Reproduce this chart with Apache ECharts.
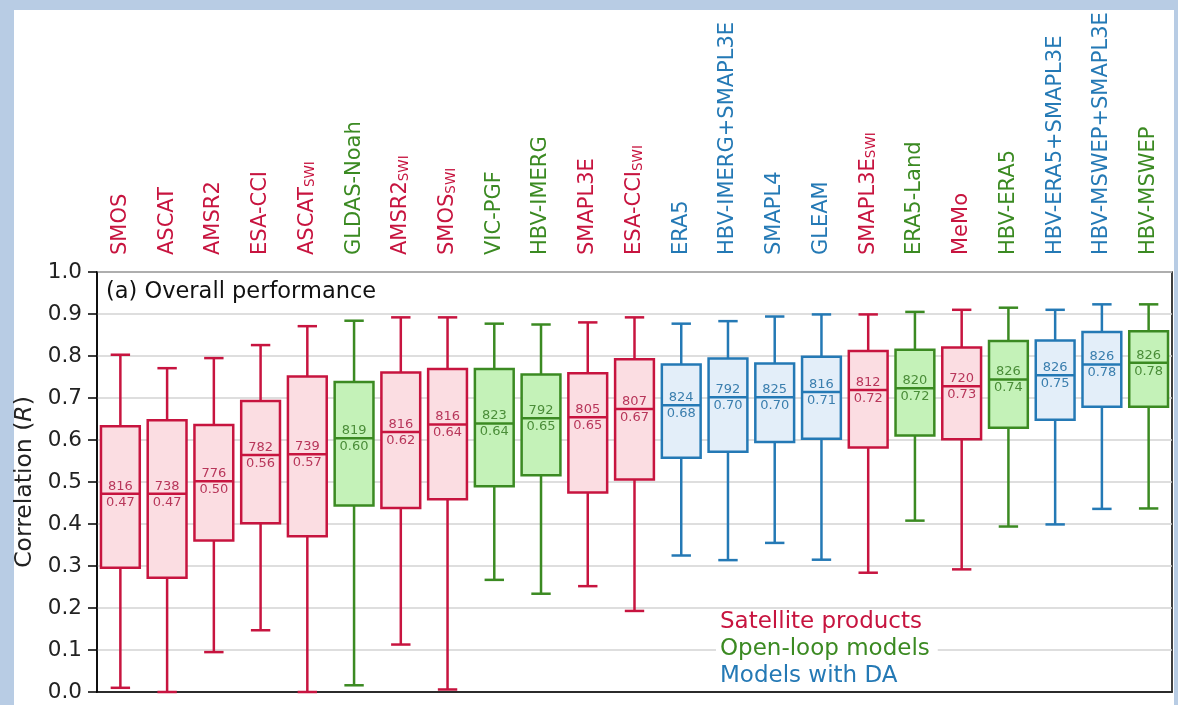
<!DOCTYPE html>
<html>
<head>
<meta charset="utf-8">
<script src="https://cdn.jsdelivr.net/npm/echarts@6/dist/echarts.min.js"></script>
<style>
  html, body { margin: 0; padding: 0; background: #b8cce4; }
  #panel { position: absolute; left: 14px; top: 10px; width: 1160px; height: 695px; background: #ffffff; }
  #chart { position: absolute; left: 0; top: 0; width: 1178px; height: 705px; }
</style>
</head>
<body>
<div id="panel"></div>
<div id="chart"></div>
<script>
// ---- data ----
const categories = ['SMOS','ASCAT','AMSR2','ESA-CCI','ASCAT_SWI','GLDAS-Noah','AMSR2_SWI','SMOS_SWI','VIC-PGF','HBV-IMERG','SMAPL3E','ESA-CCI_SWI','ERA5','HBV-IMERG+SMAPL3E','SMAPL4','GLEAM','SMAPL3E_SWI','ERA5-Land','MeMo','HBV-ERA5','HBV-ERA5+SMAPL3E','HBV-MSWEP+SMAPL3E','HBV-MSWEP'];
const groups = ['sat','sat','sat','sat','sat','ol','sat','sat','ol','ol','sat','sat','da','da','da','da','sat','ol','sat','ol','da','da','ol'];
const whiskerLow = [0.010,0.000,0.095,0.147,0.000,0.016,0.113,0.006,0.267,0.234,0.252,0.193,0.325,0.314,0.355,0.315,0.284,0.408,0.292,0.394,0.399,0.436,0.437];
const q1 = [0.296,0.272,0.361,0.402,0.371,0.444,0.438,0.459,0.490,0.516,0.475,0.506,0.558,0.572,0.595,0.603,0.582,0.611,0.602,0.629,0.648,0.679,0.679];
const medians = [0.472,0.472,0.502,0.564,0.566,0.604,0.619,0.637,0.639,0.652,0.654,0.674,0.683,0.702,0.702,0.714,0.719,0.723,0.728,0.744,0.754,0.780,0.784];
const q3 = [0.633,0.647,0.636,0.693,0.751,0.738,0.761,0.769,0.769,0.756,0.759,0.792,0.780,0.794,0.782,0.798,0.812,0.815,0.820,0.836,0.837,0.857,0.859];
const whiskerHigh = [0.803,0.771,0.795,0.826,0.871,0.884,0.892,0.892,0.877,0.875,0.880,0.892,0.877,0.883,0.894,0.899,0.899,0.905,0.910,0.915,0.910,0.923,0.923];
const counts = [816,738,776,782,739,819,816,816,823,792,805,807,824,792,825,816,812,820,720,826,826,826,826];
const yTicks = [0,0.1,0.2,0.3,0.4,0.5,0.6,0.7,0.8,0.9,1.0];
const legendLabels = ['Satellite products','Open-loop models','Models with DA'];
const panelTitle = '(a) Overall performance';

// ---- style ----
const palette = {
  sat: { line: '#c7143f', fill: '#fbdde2', text: '#b8365a' },
  ol:  { line: '#3b8a22', fill: '#c4f2b8', text: '#4a8d38' },
  da:  { line: '#2479b5', fill: '#e3eef9', text: '#3a7eae' }
};
const FONT = "'DejaVu Sans', sans-serif";

const boxData = categories.map((c, i) => [i, whiskerLow[i], q1[i], medians[i], q3[i], whiskerHigh[i], counts[i]]);

function renderBox(params, api) {
  const i = api.value(0);
  const g = palette[groups[i]];
  const cx = api.coord([i, 0])[0];
  const bw = api.size([1, 0])[0] * 0.83;
  const capW = bw * 0.5;
  const Y = v => api.coord([i, v])[1];
  const yLo = Y(api.value(1)), yQ1 = Y(api.value(2)), yMed = Y(api.value(3)), yQ3 = Y(api.value(4)), yHi = Y(api.value(5));
  const ls = { stroke: g.line, lineWidth: 2.5 };
  return {
    type: 'group',
    children: [
      { type: 'line', shape: { x1: cx, y1: yQ3, x2: cx, y2: yHi }, style: ls },
      { type: 'line', shape: { x1: cx, y1: yQ1, x2: cx, y2: yLo }, style: ls },
      { type: 'line', shape: { x1: cx - capW / 2, y1: yHi, x2: cx + capW / 2, y2: yHi }, style: ls },
      { type: 'line', shape: { x1: cx - capW / 2, y1: yLo, x2: cx + capW / 2, y2: yLo }, style: ls },
      { type: 'rect', shape: { x: cx - bw / 2, y: yQ3, width: bw, height: yQ1 - yQ3 }, style: { fill: g.fill, stroke: g.line, lineWidth: 2.5 } },
      { type: 'line', shape: { x1: cx - bw / 2, y1: yMed, x2: cx + bw / 2, y2: yMed }, style: ls },
      { type: 'text', style: { text: String(api.value(6)), x: cx, y: yMed - 1, align: 'center', verticalAlign: 'bottom', font: '13px ' + FONT, fill: g.text } },
      { type: 'text', style: { text: api.value(3).toFixed(2), x: cx, y: yMed + 2, align: 'center', verticalAlign: 'top', font: '13px ' + FONT, fill: g.text } }
    ]
  };
}

const rich = {};
Object.keys(palette).forEach(k => {
  rich[k] = { color: palette[k].line, fontSize: 21, fontFamily: FONT };
  rich[k + 's'] = { color: palette[k].line, fontSize: 13.5, fontFamily: FONT, verticalAlign: 'bottom' };
});

const chart = echarts.init(document.getElementById('chart'), null, { renderer: 'canvas' });
chart.setOption({
  backgroundColor: 'transparent',
  animation: false,
  grid: { left: 97, right: 6, top: 272, bottom: 13, show: true, borderColor: '#000', borderWidth: 1.5, backgroundColor: 'transparent' },
  xAxis: {
    type: 'category',
    position: 'top',
    data: categories,
    axisLine: { lineStyle: { color: '#000', width: 1.5 } },
    axisTick: { alignWithLabel: true, length: 9, lineStyle: { color: '#000', width: 1.5 } },
    splitLine: { show: false },
    axisLabel: {
      rotate: 90,
      margin: 17,
      interval: 0,
      formatter: (v, idx) => {
        const k = groups[idx];
        const parts = v.split('_');
        return parts.length > 1 ? '{' + k + '|' + parts[0] + '}{' + k + 's|' + parts[1] + '}' : '{' + k + '|' + v + '}';
      },
      rich: rich
    }
  },
  yAxis: {
    type: 'value',
    min: 0, max: 1, interval: 0.1,
    name: '{a|Correlation (}{i|R}{a|)}',
    nameLocation: 'middle',
    nameGap: 59,
    nameRotate: 90,
    nameTextStyle: { rich: { a: { fontSize: 23.5, fontFamily: FONT, color: '#222' }, i: { fontSize: 23.5, fontFamily: FONT, fontStyle: 'italic', color: '#222' } } },
    axisLine: { show: true, lineStyle: { color: '#000', width: 1.5 } },
    axisTick: { show: true, length: 9, lineStyle: { color: '#000', width: 1.5 } },
    axisLabel: { margin: 15, fontSize: 21.5, fontFamily: FONT, color: '#222', formatter: v => v.toFixed(1) },
    splitLine: { show: true, lineStyle: { color: '#d3d3d3', width: 1.5 } }
  },
  graphic: [
    { type: 'text', left: 106, top: 281, z: 100, style: { text: panelTitle, font: '22.5px ' + FONT, fill: '#111' } },
    { type: 'text', left: 716, top: 611, z: 100, style: { text: legendLabels[0], font: '23px ' + FONT, fill: palette.sat.line, backgroundColor: '#fff', padding: [0, 8, 0, 4] } },
    { type: 'text', left: 716, top: 638, z: 100, style: { text: legendLabels[1], font: '23px ' + FONT, fill: palette.ol.line, backgroundColor: '#fff', padding: [0, 8, 0, 4] } },
    { type: 'text', left: 716, top: 665, z: 100, style: { text: legendLabels[2], font: '23px ' + FONT, fill: palette.da.line, backgroundColor: '#fff', padding: [0, 8, 0, 4] } }
  ],
  series: [{
    type: 'custom',
    renderItem: renderBox,
    data: boxData,
    encode: { x: 0, y: [1, 2, 3, 4, 5] },
    z: 5
  }]
});
</script>
</body>
</html>
